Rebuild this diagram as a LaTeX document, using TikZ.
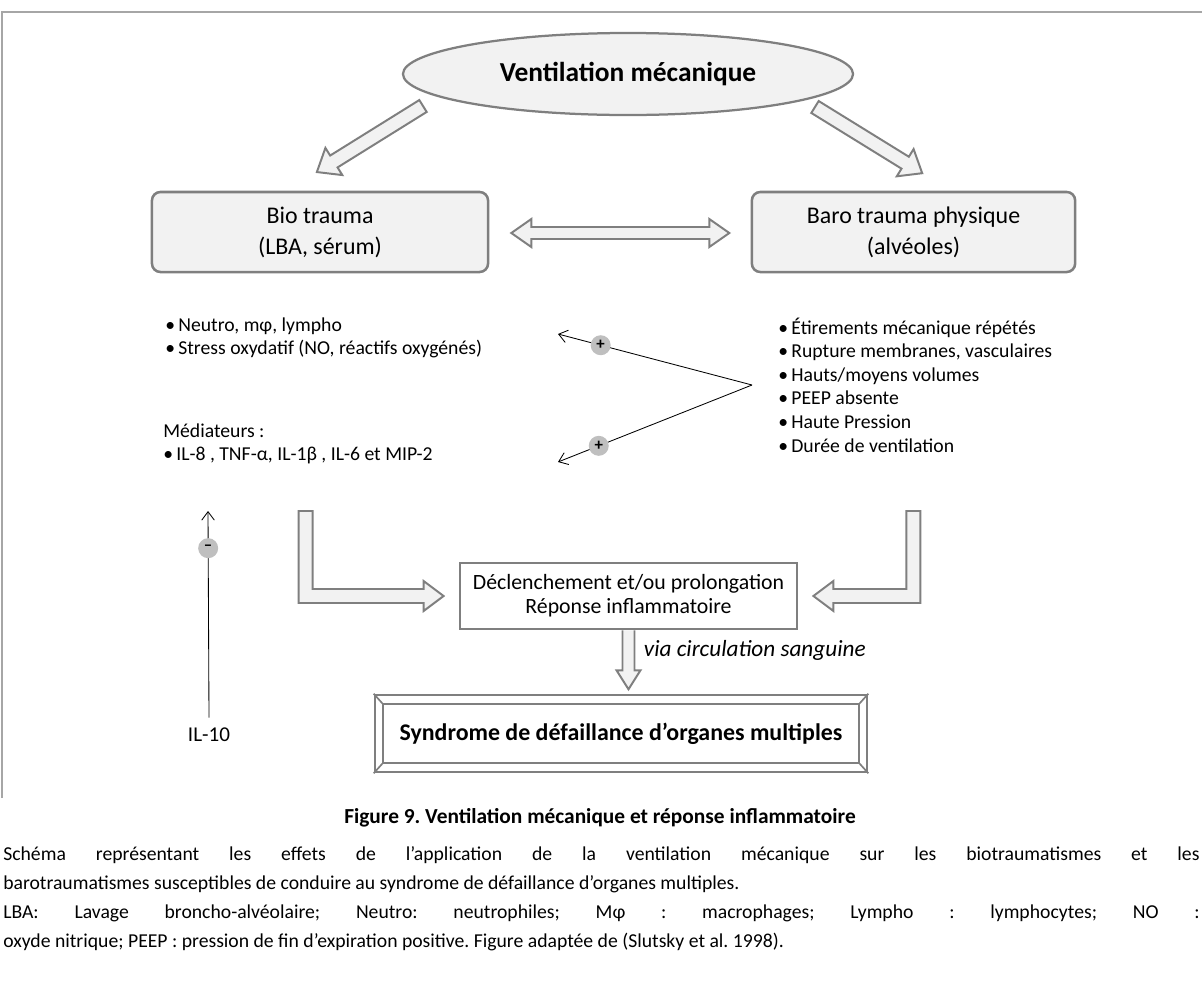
\documentclass[tikz,border=0pt]{standalone}
\usepackage{fontspec}
\setmainfont{Carlito}
\usepackage{tikz}
\usetikzlibrary{arrows.meta,positioning,calc,shapes.geometric}
\definecolor{edge}{HTML}{7F7F7F}
\definecolor{panel}{HTML}{F2F2F2}
\definecolor{dot}{HTML}{BFBFBF}
\definecolor{frame}{HTML}{A6A6A6}
\setlength{\parindent}{0pt}
\frenchspacing

\begin{document}
\begin{tikzpicture}[x=0.025cm,y=-0.025cm,
  oval/.style={ellipse,draw=edge,fill=panel,line width=1.6pt,minimum width=11.25cm,minimum height=2.05cm,font=\fontsize{19.5}{22}\selectfont\bfseries},
  trauma/.style={draw=edge,fill=panel,rounded corners=6pt,line width=1.8pt,minimum width=8.4cm,minimum height=2cm,align=center,font=\fontsize{17}{22}\selectfont},
  list/.style={align=left,anchor=west,inner sep=0pt,font=\fontsize{14}{16.8}\selectfont},
  fat/.style={draw=edge,fill=panel,line width=1.4pt,line join=miter},
  thinarr/.style={-{Straight Barb[length=6pt,width=9pt]},line width=0.6pt},
  sign/.style={circle,fill=dot,inner sep=0pt,minimum size=0.5cm,font=\fontsize{12}{12}\selectfont\bfseries},
  plainbox/.style={draw=edge,fill=white,line width=1.8pt,align=center}]
  \useasboundingbox (0,0) rectangle (1202,1001);
  \draw[frame,line width=1pt] (2,798) -- (2,12) -- (1202,12);

  \node[oval] (vent) at (628,74) {Ventilation mécanique\hspace{1.2em}};
  \node[trauma] (bio) at (320,232) {Bio trauma\\(LBA, sérum)};
  \node[trauma,minimum width=8.08cm] (baro) at (913.5,232) {Baro trauma physique\\(alvéoles)};

  \begin{scope}[shift={(423,106)},rotate=211.9]
    \draw[fat] (0,-7) -- (105,-7) -- (105,-16) -- (125,0) -- (105,16) -- (105,7) -- (0,7) -- cycle;
  \end{scope}
  \begin{scope}[shift={(815,107)},rotate=-31.7]
    \draw[fat] (0,-7) -- (106,-7) -- (106,-16) -- (126,0) -- (106,16) -- (106,7) -- (0,7) -- cycle;
  \end{scope}
  \draw[fat] ($(bio.east)+(22,1)$) -- ++(20,-14) -- ++(0,8) -- ++(178,0) -- ++(0,-8) -- ++(20,14)
    -- ++(-20,14) -- ++(0,-8) -- ++(-178,0) -- ++(0,8) -- cycle;

  \node[list] (cells) at (165,338) {•\,Neutro, mφ, lympho\\•\,Stress oxydatif (NO, réactifs oxygénés)};
  \node[list] (med) at (163,444) {Médiateurs :\\•\,IL-8 , TNF-α, IL-1β , IL-6 et MIP-2};
  \node[list] (causes) at (778,385) {•\,Étirements mécanique répétés\\•\,Rupture membranes, vasculaires\\•\,Hauts/moyens volumes\\•\,PEEP absente\\•\,Haute Pression\\•\,Durée de ventilation};

  \coordinate (fork) at ($(causes.west)+(-26,0)$);
  \coordinate (up) at (558,334);
  \coordinate (dn) at (558,462);
  \draw[thinarr] (fork) -- node[sign,pos=0.78] (plus1) {+} (up);
  \draw[thinarr] (fork) -- node[sign,pos=0.79] (plus2) {+} (dn);

  \node[font=\fontsize{15}{18}\selectfont] (il10) at (209,735) {IL-10};
  \coordinate (ilup) at (208,511);
  \draw[thinarr] ([yshift=4pt]il10.north) -- node[sign,pos=0.82] (minus) {–} (ilup);

  \node[plainbox,minimum width=8.43cm,minimum height=1.65cm,font=\fontsize{15.5}{17}\selectfont] (decl) at (628.5,596) {Déclenchement et/ou prolongation\\Réponse inflammatoire};
  \node[plainbox,minimum width=12.3cm,minimum height=1.925cm,font=\fontsize{17}{19}\selectfont\bfseries] (synd) at (621,733.5) {Syndrome de défaillance d’organes multiples};
  \draw[edge,line width=1.4pt] ($(synd.north west)+(9,10)$) rectangle ($(synd.south east)+(-9,-10)$);
  \foreach \c/\dx/\dy in {north west/9/10,north east/-9/10,south west/9/-10,south east/-9/-10}
    \draw[edge,line width=1.2pt] (synd.\c) -- ++(\dx,\dy);

  \draw[fat] ($(decl.west)+(-15,0)$) -- ++(-20,-15) -- ++(0,8) -- ++(-111,0) -- ++(0,-78) -- ++(-14,0)
    -- ++(0,92) -- ++(125,0) -- ++(0,8) -- cycle;
  \draw[fat] ($(decl.east)+(15,0)$) -- ++(20,-15) -- ++(0,8) -- ++(73,0) -- ++(0,-78) -- ++(14,0)
    -- ++(0,92) -- ++(-87,0) -- ++(0,8) -- cycle;
  \draw[fat] ($(decl.south)+(-6,0)$) -- ++(0,40) -- ++(-6,0) -- ++(12,19) -- ++(12,-19) -- ++(-6,0) -- ++(0,-40);
  \node[anchor=west,font=\fontsize{16.5}{19}\selectfont\itshape] (via) at (639,650) {via circulation sanguine};

  \node[font=\fontsize{15.2}{17}\selectfont\bfseries] (fig) at (600,818) {Figure 9. Ventilation mécanique et réponse inflammatoire};
  \node[anchor=north west,inner sep=0pt,text width=29.9cm,align=justify,font=\fontsize{14}{20.6}\selectfont] (legend) at (3,846)
    {Schéma représentant les effets de l’application de la ventilation mécanique sur les biotraumatismes et les\linebreak
     barotraumatismes susceptibles de conduire au syndrome de défaillance d’organes multiples.\par
     LBA: Lavage broncho-alvéolaire; Neutro: neutrophiles; Mφ : macrophages; Lympho : lymphocytes; NO :\linebreak
     oxyde nitrique; PEEP : pression de fin d’expiration positive. Figure adaptée de (Slutsky et al. 1998).};
\end{tikzpicture}
\end{document}
